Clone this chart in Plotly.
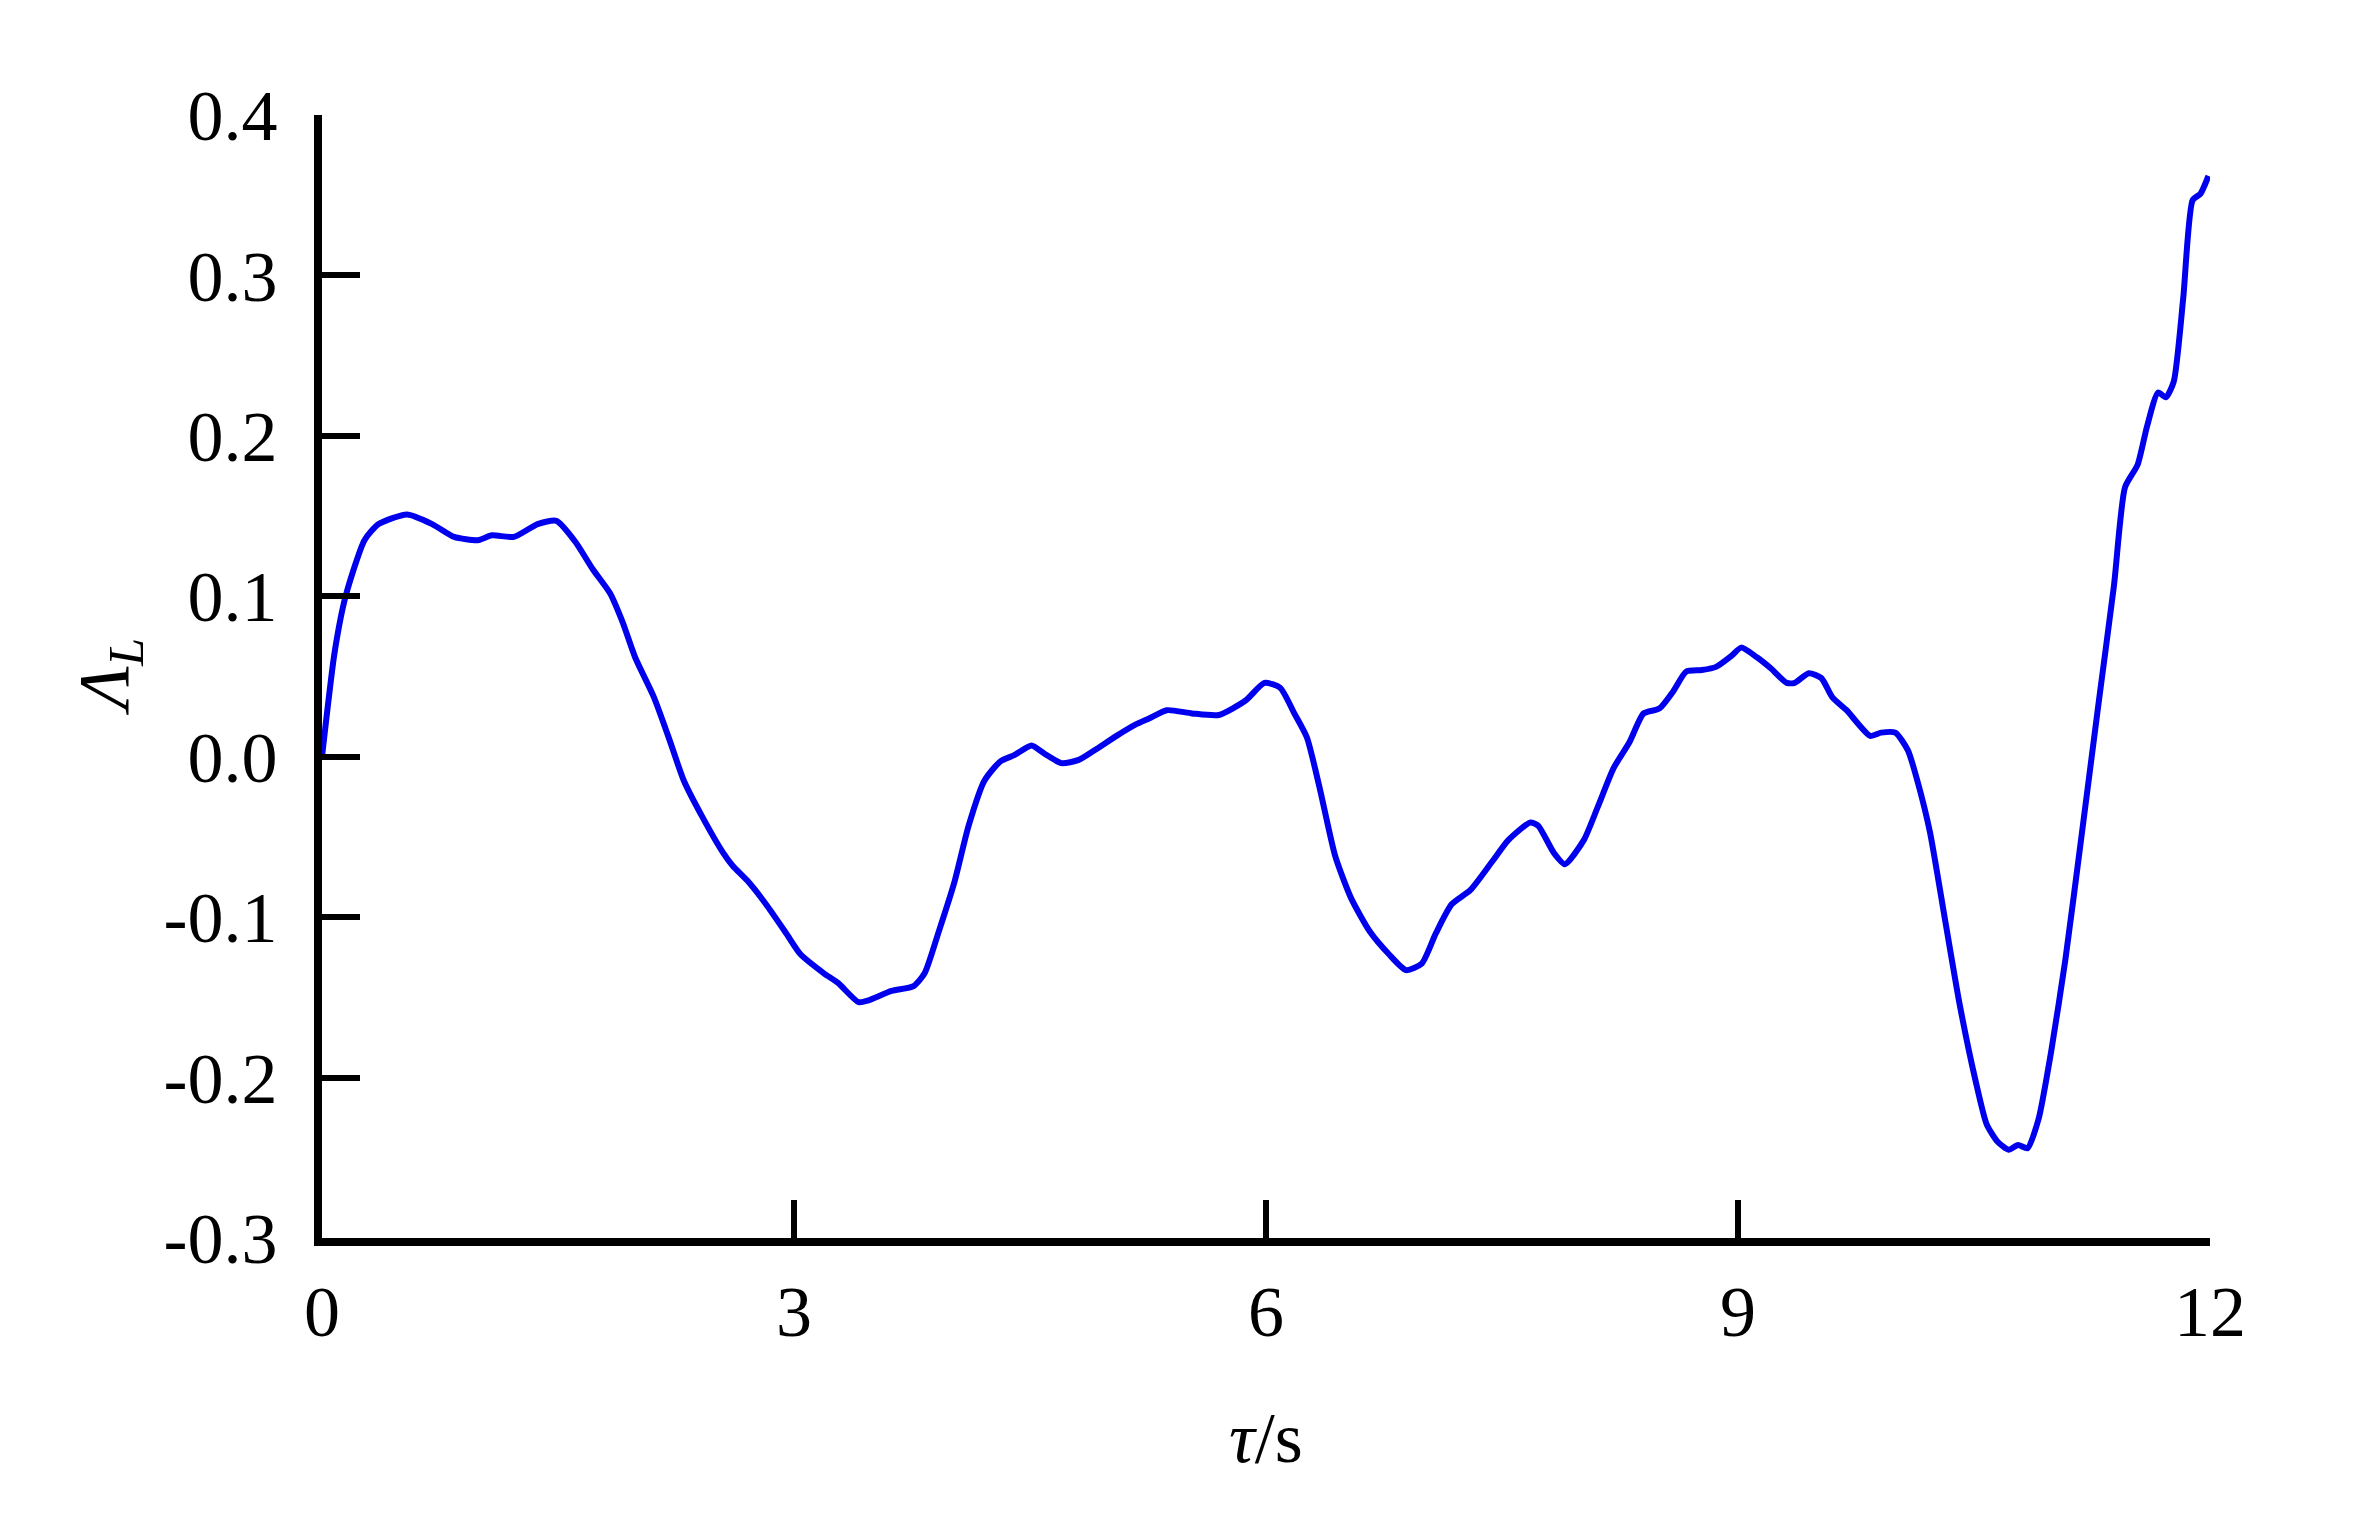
import plotly.graph_objects as go

tau = [0.0, 0.08, 0.15, 0.27, 0.36, 0.54, 0.70, 0.84, 0.99, 1.08, 1.22, 1.37, 1.49, 1.61, 1.72, 1.83,
       1.91, 1.99, 2.11, 2.20, 2.30, 2.42, 2.55, 2.61, 2.71, 2.83, 2.95, 3.04, 3.19, 3.28, 3.41, 3.47,
       3.62, 3.76, 3.83, 3.92, 4.02, 4.11, 4.21, 4.31, 4.40, 4.51, 4.59, 4.70, 4.81, 4.91, 5.05, 5.17,
       5.26, 5.37, 5.53, 5.70, 5.87, 5.99, 6.09, 6.18, 6.26, 6.34, 6.44, 6.54, 6.66, 6.78, 6.89, 6.99,
       7.08, 7.18, 7.30, 7.44, 7.54, 7.68, 7.73, 7.83, 7.90, 8.02, 8.11, 8.21, 8.31, 8.40, 8.50, 8.59,
       8.67, 8.77, 8.86, 8.96, 9.02, 9.12, 9.21, 9.31, 9.36, 9.45, 9.53, 9.60, 9.69, 9.84, 9.91, 10.00,
       10.08, 10.14, 10.22, 10.32, 10.41, 10.51, 10.58, 10.65, 10.72, 10.78, 10.84, 10.91, 10.99, 11.08,
       11.18, 11.29, 11.39, 11.46, 11.54, 11.60, 11.67, 11.72, 11.77, 11.83, 11.89, 11.94, 11.99]
lam = [0.0, 0.065, 0.100, 0.135, 0.145, 0.151, 0.145, 0.137, 0.135, 0.138, 0.137, 0.145, 0.147, 0.134,
       0.117, 0.102, 0.084, 0.062, 0.037, 0.013, -0.015, -0.038, -0.060, -0.068, -0.078, -0.093, -0.110,
       -0.123, -0.135, -0.141, -0.153, -0.152, -0.146, -0.143, -0.135, -0.109, -0.078, -0.043, -0.015,
       -0.003, 0.001, 0.007, 0.002, -0.004, -0.002, 0.004, 0.013, 0.020, 0.024, 0.029, 0.027, 0.026,
       0.035, 0.046, 0.043, 0.027, 0.012, -0.019, -0.062, -0.088, -0.109, -0.123, -0.133, -0.129, -0.110,
       -0.092, -0.083, -0.065, -0.052, -0.041, -0.043, -0.060, -0.067, -0.052, -0.031, -0.007, 0.009,
       0.027, 0.030, 0.041, 0.053, 0.054, 0.056, 0.063, 0.068, 0.062, 0.055, 0.046, 0.046, 0.052, 0.049,
       0.037, 0.029, 0.013, 0.015, 0.015, 0.004, -0.015, -0.047, -0.104, -0.155, -0.202, -0.229, -0.240,
       -0.245, -0.242, -0.244, -0.226, -0.184, -0.127, -0.052, 0.032, 0.107, 0.168, 0.182, 0.206, 0.227,
       0.224, 0.234, 0.286, 0.347, 0.351, 0.362]

x_ticks = [0, 3, 6, 9, 12]
y_ticks = [-0.3, -0.2, -0.1, 0.0, 0.1, 0.2, 0.3, 0.4]
y_ticktext = ["-0.3", "-0.2", "-0.1", "0.0", "0.1", "0.2", "0.3", "0.4"]

FONT = "Liberation Serif, Times New Roman, serif"

fig = go.Figure()
fig.add_trace(go.Scatter(x=tau, y=lam, mode="lines",
                         line=dict(color="#0000ee", width=6, shape="spline", smoothing=0.6),
                         showlegend=False, cliponaxis=False))

axis_common = dict(showline=True, linecolor="black", linewidth=8, ticks="inside",
                   ticklen=38, tickwidth=5.5, tickcolor="black", showgrid=False, zeroline=False,
                   automargin=False,
                   tickfont=dict(family=FONT, size=72, color="black"))

fig.update_xaxes(range=[0, 12], tickvals=x_ticks, ticktext=[str(v) for v in x_ticks],
                 ticklabelstandoff=4, **axis_common)
fig.update_yaxes(range=[-0.3, 0.4], tickvals=y_ticks, ticktext=y_ticktext,
                 ticklabelstandoff=22, **axis_common)

fig.add_annotation(x=0.5, y=0, xref="paper", yref="paper", text="<i>τ</i>/s",
                   showarrow=False, xanchor="center", yanchor="middle", yshift=-200,
                   font=dict(family=FONT, size=72, color="black"))
fig.add_annotation(x=0, y=0.5, xref="paper", yref="paper", text="<i>Λ</i><sub><i>L</i></sub>",
                   showarrow=False, xanchor="center", yanchor="middle", xshift=-214, textangle=-90,
                   font=dict(family=FONT, size=72, color="black"))

fig.update_layout(template="none", width=2361, height=1535, plot_bgcolor="white", paper_bgcolor="white",
                  margin=dict(l=314, r=159, t=107, b=305, pad=0))

fig.write_html("out.html")
